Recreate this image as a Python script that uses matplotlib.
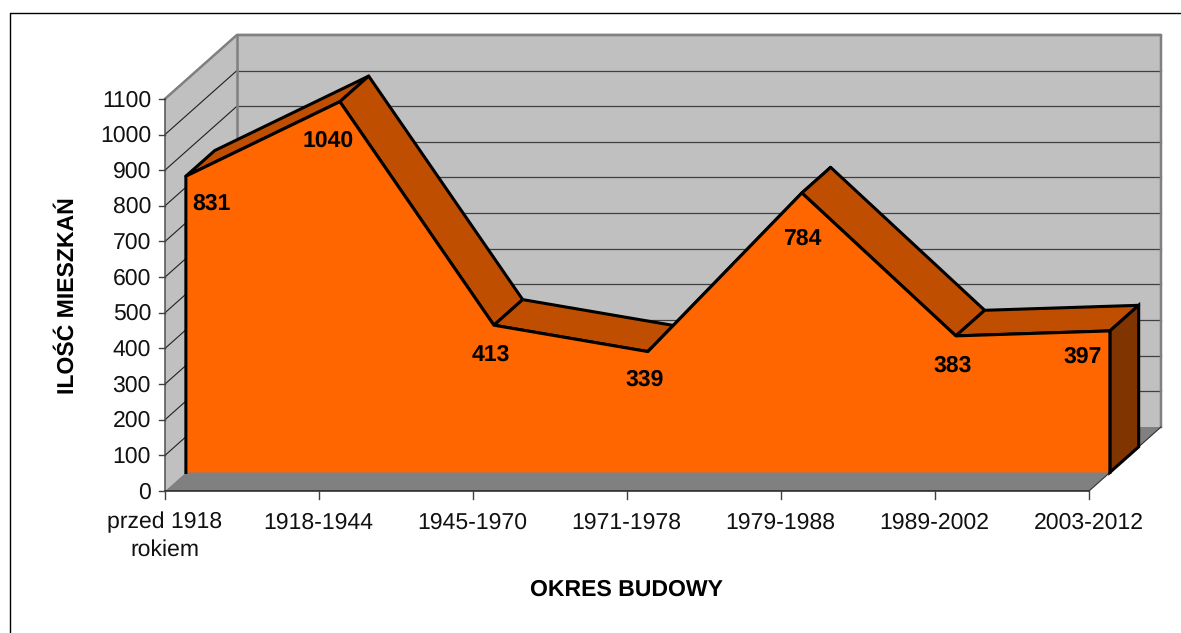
# -*- coding: utf-8 -*-
import numpy as np
import matplotlib
matplotlib.use('Agg')
import matplotlib.pyplot as plt
from matplotlib.patches import Polygon

plt.rcParams['font.family'] = ['Liberation Sans', 'DejaVu Sans']
plt.rcParams['text.hinting'] = 'none'
plt.rcParams['text.hinting_factor'] = 1

# data
categories = ['przed 1918\nrokiem', '1918-1944', '1945-1970', '1971-1978',
              '1979-1988', '1989-2002', '2003-2012']
values = [831, 1040, 413, 339, 784, 383, 397]
y_ticks = list(range(0, 1200, 100))
x_title = 'OKRES BUDOWY'
y_title = 'ILOŚĆ MIESZKAŃ'

# label shifts from the point, pixels
label_shift = [(26, 28), (-12, 39), (-3, 30), (-3, 28), (0, 46), (-3, 30), (-27, 26)]

# pseudo 3D projection (excel style chart), everything in figure pixels
X0, Y0 = 165.0, 491.0      # origin on the front plane
STEP = 154.0               # one category
UNIT = 35.65 / 100         # pixels per value unit
DEPTH = (72.0, -64.0)      # floor front to back
SER_FRONT = 0.29           # front of the area, as depth fraction
SER_BACK = 0.69            # back of the area
FS = 16.6


def proj(cat, val, d=0.0):
    return (X0 + STEP * cat + DEPTH[0] * d, Y0 - UNIT * val + DEPTH[1] * d)


fig = plt.figure(figsize=(11.81, 6.33), dpi=100)
ax = fig.add_axes([0, 0, 1, 1])
ax.set_xlim(0, 1181)
ax.set_ylim(633, 0)
ax.axis('off')

# outer frame, only top and left are in the picture
ax.plot([10, 10, 1181], [633, 13, 13], color='black', lw=1.0, zorder=1)

n_cat = len(categories) - 1
ymax = y_ticks[-1]

# walls and floor
side = [proj(0, 0), proj(0, ymax), proj(0, ymax, 1), proj(0, 0, 1)]
back = [proj(0, 0, 1), proj(0, ymax, 1), proj(n_cat, ymax, 1), proj(n_cat, 0, 1)]
floor = [proj(0, 0), proj(n_cat, 0), proj(n_cat, 0, 1), proj(0, 0, 1)]
ax.add_patch(Polygon(side, fc='#C0C0C0', ec='none', zorder=2))
ax.add_patch(Polygon(back, fc='#C0C0C0', ec='none', zorder=2))
ax.add_patch(Polygon(floor, fc='#808080', ec='none', zorder=2))

# grid on both walls
for t in y_ticks[1:]:
    xs, ys = zip(proj(0, t), proj(0, t, 1))
    ax.plot(xs, ys, color='#202020', lw=0.8, zorder=3)
    xs, ys = zip(proj(0, t, 1), proj(n_cat, t, 1))
    ax.plot(xs, ys, color='#404040', lw=0.9, zorder=3)

# wall edges
edge = [proj(0, ymax), proj(0, ymax, 1), proj(n_cat, ymax, 1), proj(n_cat, 0, 1)]
ax.plot(*zip(*edge), color='#808080', lw=1.8, zorder=3)
ax.plot(*zip(proj(0, ymax, 1), proj(0, 0, 1)), color='#808080', lw=1.8, zorder=3)

# axes lines and ticks
ax.plot(*zip(proj(0, 0), proj(0, ymax)), color='#505050', lw=1.1, zorder=4)
ax.plot(*zip(proj(0, 0), proj(n_cat, 0)), color='#202020', lw=1.1, zorder=4)
ax.plot(*zip(proj(n_cat, 0), proj(n_cat, 0, 1)), color='#303030', lw=0.8, zorder=4)
for t in y_ticks:
    x, y = proj(0, t)
    ax.plot([x - 6, x], [y, y], color='#404040', lw=1.0, zorder=4)
    ax.text(x - 14, y + 1.5, str(t), ha='right', va='center', fontsize=FS, color='#111111', zorder=6)
for i, c in enumerate(categories):
    x, y = proj(i, 0)
    ax.plot([x, x], [y, y + 8], color='#404040', lw=1.0, zorder=4)
    ax.text(x - 0.5, y + 21, c, ha='center', va='top', fontsize=FS, color='#111111',
            linespacing=1.36, zorder=6)

# top faces of the area
zs = 5
for i in range(n_cat):
    face = [proj(i, values[i], SER_FRONT), proj(i + 1, values[i + 1], SER_FRONT),
            proj(i + 1, values[i + 1], SER_BACK), proj(i, values[i], SER_BACK)]
    ax.add_patch(Polygon(face, fc='#C04E00', ec='black', lw=2.2, joinstyle='round', zorder=zs))

# right end of the area
right = [proj(n_cat, 0, SER_FRONT), proj(n_cat, values[-1], SER_FRONT),
         proj(n_cat, values[-1], SER_BACK), proj(n_cat, 0, SER_BACK)]
ax.add_patch(Polygon(right, fc='#803400', ec='black', lw=2.2, zorder=zs))

# front of the area
front = [proj(i, v, SER_FRONT) for i, v in enumerate(values)]
front_poly = [proj(0, 0, SER_FRONT)] + front + [proj(n_cat, 0, SER_FRONT)]
ax.add_patch(Polygon(front_poly, fc='#FF6600', ec='none', zorder=zs + 0.1))
ax.plot(*zip(*front_poly), color='black', lw=2.2, solid_joinstyle='round', zorder=zs + 0.2)

# value labels
for p, v, s in zip(front, values, label_shift):
    ax.text(p[0] + s[0], p[1] + s[1], str(v), ha='center', va='center',
            fontsize=FS + 0.2, fontweight='bold', color='black', zorder=7)

# axis titles
ax.text(626, 590, x_title, ha='center', va='center', fontsize=FS, fontweight='bold', color='black')
ax.text(67.5, 296, y_title, ha='center', va='center', rotation=90, fontsize=FS,
        fontweight='bold', color='black')

fig.savefig('out.png', dpi=100, facecolor='white')
